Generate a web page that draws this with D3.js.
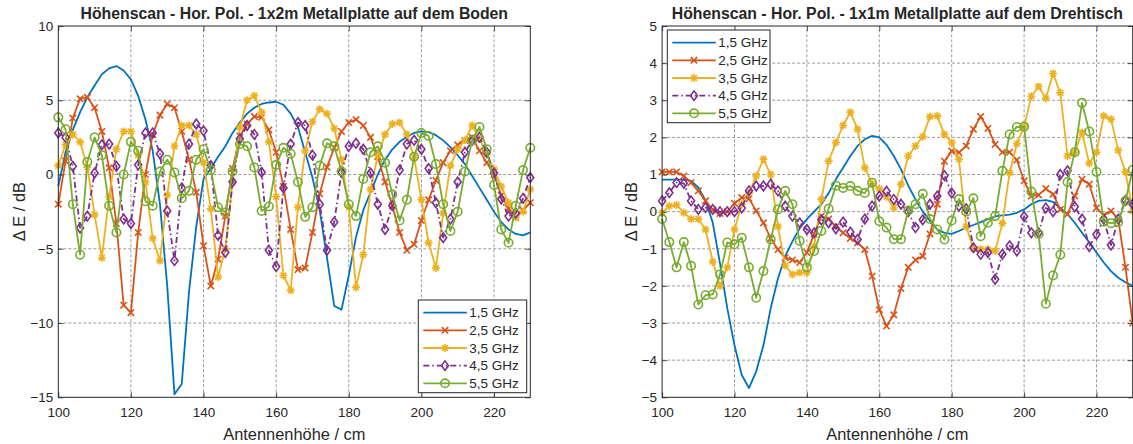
<!DOCTYPE html>
<html>
<head>
<meta charset="utf-8">
<script src="https://cdn.jsdelivr.net/npm/d3@7"></script>
<style>
  body { margin: 0; background: #fff; }
  svg text { font-family: "Liberation Sans", Arial, Helvetica, sans-serif; fill: #262626; }
</style>
</head>
<body>
<svg id="chart" width="1133" height="444"></svg>
<script>
// Antennenhöhe (cm), one sample every 2 cm
const heights = [100,102,104,106,108,110,112,114,116,118,120,122,124,126,128,130,132,134,136,138,
  140,142,144,146,148,150,152,154,156,158,160,162,164,166,168,170,172,174,176,178,
  180,182,184,186,188,190,192,194,196,198,200,202,204,206,208,210,212,214,216,218,
  220,222,224,226,228,230];

const seriesNames = ["1,5 GHz", "2,5 GHz", "3,5 GHz", "4,5 GHz", "5,5 GHz"];

// 1x2m Metallplatte auf dem Boden (dB)
const boden15 = [-0.8,1.5,3.0,4.2,5.2,6.0,6.75,7.15,7.3,7.0,6.4,5.3,3.7,1.6,-2.0,-7.5,-14.8,-14.1,-7.9,-3.5,
  -0.3,0.4,1.2,1.9,2.8,3.5,4.1,4.5,4.75,4.85,4.9,4.7,4.1,3.2,1.5,-0.2,-2.4,-5.6,-8.85,-9.1,
  -6.8,-4.2,-2.4,-1.2,0.0,1.0,1.7,2.2,2.55,2.8,2.9,2.85,2.65,2.3,1.85,1.3,0.7,-0.1,-0.9,-1.7,
  -2.5,-3.2,-3.7,-4.0,-4.1,-3.9];
const boden25 = [-2.0,0.9,3.8,5.1,5.2,4.5,2.9,0.45,-3.3,-8.8,-9.3,-3.9,0.0,2.7,4.0,4.75,4.5,2.9,1.0,-1.2,
  -4.8,-7.5,-5.7,-2.8,0.4,2.6,3.4,3.9,3.85,3.0,1.5,-0.8,-3.7,-6.4,-6.3,-3.9,-1.3,0.5,1.8,2.9,
  3.5,3.7,3.3,2.5,1.2,-0.5,-2.1,-3.9,-5.1,-4.7,-3.1,-1.7,-0.4,0.8,1.6,2.0,2.3,2.5,1.6,0.8,
  0.0,-1.4,-2.3,-2.9,-2.4,-1.9];
const boden35 = [0.6,2.0,2.7,2.2,0.5,-2.7,-5.6,-1.5,1.7,2.9,2.9,1.3,-0.5,-4.3,-5.8,-1.4,1.9,3.3,3.3,2.7,
  0.8,-2.3,-6.9,-5.0,-0.5,3.2,5.0,5.3,4.2,2.2,-1.5,-6.8,-7.8,-2.2,1.6,3.55,4.4,4.1,3.1,1.0,
  -2.2,-7.6,-5.4,-1.0,1.3,2.7,3.4,3.5,2.7,1.15,-1.7,-4.6,-6.3,-2.6,0.6,1.7,2.3,3.3,2.4,1.35,
  0.35,-0.8,-1.9,-2.9,-2.5,-1.0];
const boden45 = [2.8,2.5,0.55,-3.6,-2.8,0.1,2.0,2.05,0.55,-3.0,-3.3,0.65,2.8,2.8,1.4,-2.45,-5.8,-0.9,2.05,3.4,
  2.95,0.6,-4.1,-5.25,-0.5,2.4,3.3,2.7,0.15,-5.1,-6.2,-0.9,2.05,3.5,3.3,1.3,-2.0,-5.1,-3.2,0.15,
  1.9,2.1,1.7,0.1,-2.0,-3.7,-2.1,0.3,2.05,2.3,1.7,0.4,-1.9,-4.25,-3.0,-0.5,1.5,2.3,2.5,1.5,
  0.1,-1.65,-2.8,-2.6,-1.6,-0.2];
const boden55 = [3.85,3.05,-2.0,-5.4,0.85,2.5,1.3,-2.1,-3.9,0.0,2.2,1.6,-1.8,-2.1,0.2,1.0,0.14,-1.6,-1.1,1.0,
  1.7,0.3,-2.2,-2.55,0.2,2.05,1.9,0.48,-2.45,-2.15,0.65,1.8,1.4,-0.5,-2.85,-2.2,0.6,2.1,1.9,0.2,
  -2.0,-2.8,-0.3,1.5,1.9,0.8,-1.35,-3.1,-1.7,1.2,2.8,2.6,0.7,-2.0,-3.8,-2.5,0.2,2.3,3.2,1.7,
  -0.7,-3.7,-4.6,-2.1,0.3,1.8];

// 1x1m Metallplatte auf dem Drehtisch (dB)
const dreh15 = [0.86,0.86,0.86,0.86,0.83,0.65,0.3,-0.3,-1.4,-2.6,-3.6,-4.4,-4.75,-4.3,-3.6,-2.6,-1.8,-1.2,-0.8,-0.45,
  -0.2,0.0,0.2,0.5,0.87,1.18,1.5,1.77,1.95,2.04,2.0,1.8,1.5,1.14,0.7,0.33,0.0,-0.25,-0.48,-0.57,
  -0.6,-0.52,-0.43,-0.36,-0.28,-0.2,-0.13,-0.1,-0.08,-0.03,0.06,0.2,0.29,0.31,0.26,0.1,-0.07,-0.3,-0.57,-0.83,
  -1.1,-1.37,-1.6,-1.78,-1.9,-2.0];
const dreh25 = [1.07,1.07,1.07,0.96,0.78,0.56,0.29,0.05,-0.05,0.0,0.22,0.38,0.35,0.02,-0.3,-0.72,-1.02,-1.24,-1.3,-1.37,
  -1.1,-0.6,-0.12,-0.2,-0.4,-0.57,-0.72,-0.84,-1.02,-1.74,-2.64,-3.08,-2.78,-2.07,-1.5,-1.3,-1.2,-0.6,0.2,1.36,
  1.63,1.59,1.77,2.22,2.56,2.24,1.81,1.6,1.6,1.39,0.83,0.42,0.45,0.62,0.47,0.06,-0.07,0.42,0.87,0.74,
  0.1,-0.1,0.02,-0.2,-1.5,-3.0];
const dreh35 = [-0.03,0.15,0.18,-0.03,-0.2,-0.2,-0.48,-1.35,-2.0,-1.5,-0.48,0.2,0.5,0.96,1.41,1.0,-0.4,-1.45,-1.69,-1.64,
  -1.64,-0.93,0.33,1.36,1.86,2.32,2.68,2.22,1.18,0.75,0.62,0.4,0.1,0.74,1.5,1.77,2.02,2.56,2.58,2.08,
  1.86,1.41,-0.4,-1.0,-1.01,-1.01,-1.06,-0.31,1.05,1.83,2.29,3.11,3.37,3.05,3.72,3.2,1.5,1.6,2.13,1.3,
  1.6,2.58,2.49,1.65,1.07,0.02];
const dreh45 = [0.29,0.51,0.78,0.76,0.29,0.06,0.11,0.06,0.0,0.0,0.0,0.1,0.56,0.69,0.69,0.74,0.56,0.15,-0.12,-0.3,
  -0.48,-0.57,-0.22,-0.3,-0.46,-0.28,-0.55,-0.75,-0.2,0.15,0.42,0.55,0.33,0.2,0.0,-0.43,-0.22,0.2,0.42,0.97,
  0.5,0.15,0.08,-0.97,-1.15,-1.1,-1.82,-1.15,-0.92,-1.06,-0.13,-0.57,-0.57,0.1,0.0,1.0,1.1,0.13,-0.2,-0.94,
  -0.61,-0.2,-0.9,-0.2,0.3,0.2];
const dreh55 = [-0.2,-0.82,-1.5,-0.82,-1.46,-2.5,-2.25,-2.23,-1.69,-0.83,-0.88,-0.7,-1.5,-2.32,-1.6,-0.75,0.06,0.56,0.2,-0.79,
  -1.5,-1.06,-0.52,0.08,0.7,0.64,0.69,0.56,0.5,0.78,-0.26,-0.43,-0.74,-0.74,0.03,0.2,0.48,-0.2,-0.48,-0.75,
  -0.24,0.34,0.0,0.36,-0.66,-0.3,-0.12,1.1,2.08,2.28,2.29,0.54,-0.6,-2.48,-1.72,-1.16,0.8,1.6,2.93,2.16,
  1.07,-0.27,-0.31,-0.28,0.29,1.13];

const xTicks = [100, 120, 140, 160, 180, 200, 220];
const bodenYTicks = [-15, -10, -5, 0, 5, 10];
const drehYTicks = [-5, -4, -3, -2, -1, 0, 1, 2, 3, 4, 5];

// line / marker styles (MATLAB default colour order)
const styles = [
  { color: "#0072BD", marker: null, dash: null },
  { color: "#D95319", marker: "x", dash: null },
  { color: "#EDB120", marker: "star", dash: null },
  { color: "#7E2F8E", marker: "diamond", dash: "6,3,1.5,3" },
  { color: "#77AC30", marker: "circle", dash: null }
];

const svg = d3.select("#chart");
const TICK_LEN = 5;

function markerPath(type) {
  if (type === "x") return "M-3.2,-3.2L3.2,3.2M-3.2,3.2L3.2,-3.2";
  if (type === "star") return "M-4,0L4,0M0,-4L0,4M-2.9,-2.9L2.9,2.9M-2.9,2.9L2.9,-2.9";
  if (type === "diamond") return "M0,-4.8L3.5,0L0,4.8L-3.5,0Z";
  return null;
}

function drawMarker(g, type, color) {
  if (type === "circle") {
    g.append("circle").attr("r", 4.2)
      .attr("fill", "none").attr("stroke", color).attr("stroke-width", 1.6);
  } else {
    g.append("path").attr("d", markerPath(type))
      .attr("fill", "none").attr("stroke", color).attr("stroke-width", 1.6);
  }
}

function drawPanel(cfg) {
  const x = d3.scaleLinear().domain([100, 230]).range([cfg.left, cfg.right]);
  const y = d3.scaleLinear().domain(cfg.yDomain).range([397.3, 26]);
  const g = svg.append("g");

  // grid
  g.append("g").selectAll("line").data(xTicks.slice(1)).join("line")
    .attr("x1", d => x(d)).attr("x2", d => x(d))
    .attr("y1", y.range()[0]).attr("y2", y.range()[1])
    .attr("stroke", "#8f8f8f").attr("stroke-width", 0.9).attr("stroke-dasharray", "3,2");
  g.append("g").selectAll("line").data(cfg.yTicks.slice(1, -1)).join("line")
    .attr("y1", d => y(d)).attr("y2", d => y(d))
    .attr("x1", x.range()[0]).attr("x2", x.range()[1])
    .attr("stroke", "#8f8f8f").attr("stroke-width", 0.9).attr("stroke-dasharray", "3,2");

  // data
  const line = d3.line().x((d, i) => x(heights[i])).y(d => y(d));
  cfg.series.forEach((vals, k) => {
    const st = styles[k];
    g.append("path").datum(vals)
      .attr("d", line)
      .attr("fill", "none")
      .attr("stroke", st.color)
      .attr("stroke-width", 1.8)
      .attr("stroke-linejoin", "round")
      .attr("stroke-dasharray", st.dash);
    if (st.marker) {
      g.append("g").selectAll("g").data(vals).join("g")
        .attr("transform", (d, i) => `translate(${x(heights[i])},${y(d)})`)
        .each(function () { drawMarker(d3.select(this), st.marker, st.color); });
    }
  });

  // axes (ticks pointing inward, like MATLAB)
  const bottom = g.append("g").attr("transform", `translate(0,${y.range()[0]})`)
    .call(d3.axisBottom(x).tickValues(xTicks).tickSize(-TICK_LEN).tickSizeOuter(0).tickPadding(10.5));
  const left = g.append("g").attr("transform", `translate(${x.range()[0]},0)`)
    .call(d3.axisLeft(y).tickValues(cfg.yTicks).tickSize(-TICK_LEN).tickSizeOuter(0).tickPadding(5));
  g.append("g").attr("transform", `translate(0,${y.range()[1]})`)
    .call(d3.axisTop(x).tickValues(xTicks).tickSize(-TICK_LEN).tickSizeOuter(0).tickFormat(""));
  g.append("g").attr("transform", `translate(${x.range()[1]},0)`)
    .call(d3.axisRight(y).tickValues(cfg.yTicks).tickSize(-TICK_LEN).tickSizeOuter(0).tickFormat(""));
  g.selectAll(".domain").remove();
  g.selectAll(".tick line").attr("stroke", "#262626").attr("stroke-width", 0.8);
  [bottom, left].forEach(a => a.selectAll("text")
    .attr("font-size", "13.5px").attr("fill", "#262626")
    .style("font-family", '"Liberation Sans", Arial, sans-serif'));

  g.append("rect")
    .attr("x", x.range()[0]).attr("y", y.range()[1])
    .attr("width", x.range()[1] - x.range()[0]).attr("height", y.range()[0] - y.range()[1])
    .attr("fill", "none").attr("stroke", "#262626").attr("stroke-width", 1);

  // title and labels
  const cx = (x.range()[0] + x.range()[1]) / 2;
  g.append("text").attr("x", cx).attr("y", 18.5).attr("text-anchor", "middle")
    .attr("font-size", "15.8px").attr("font-weight", "bold").attr("fill", "#000").text(cfg.title);
  g.append("text").attr("x", cx).attr("y", 439.5).attr("text-anchor", "middle")
    .attr("font-size", "16.4px").text("Antennenhöhe / cm");
  g.append("text")
    .attr("transform", `translate(${cfg.yLabelX},${(y.range()[0] + y.range()[1]) / 2}) rotate(-90)`)
    .attr("text-anchor", "middle").attr("dominant-baseline", "central")
    .attr("font-size", "16.4px").text("\u0394 E / dB");

  // legend
  const lg = g.append("g").attr("transform", `translate(${cfg.legend[0]},${cfg.legend[1]})`);
  lg.append("rect").attr("width", cfg.legend[2]).attr("height", 92.7)
    .attr("fill", "#fff").attr("stroke", "#262626").attr("stroke-width", 1);
  seriesNames.forEach((name, k) => {
    const st = styles[k];
    const row = lg.append("g").attr("transform", `translate(0,${12.7 + k * 17.65})`);
    row.append("line").attr("x1", 5).attr("x2", 48.5).attr("y1", 0).attr("y2", 0)
      .attr("stroke", st.color).attr("stroke-width", 1.8).attr("stroke-dasharray", st.dash);
    if (st.marker) {
      const m = row.append("g").attr("transform", "translate(26.7,0)");
      drawMarker(m, st.marker, st.color);
    }
    row.append("text").attr("x", 51).attr("y", 0).attr("dominant-baseline", "central")
      .attr("font-size", "13.5px").text(name);
  });
}

drawPanel({
  left: 58.3, right: 530.3, yDomain: [-15, 10], yTicks: bodenYTicks,
  series: [boden15, boden25, boden35, boden45, boden55],
  title: "Höhenscan - Hor. Pol. - 1x2m Metallplatte auf dem Boden",
  yLabelX: 18.5, legend: [418.3, 300, 108.4]
});
drawPanel({
  left: 662.1, right: 1132.7, yDomain: [-5, 5], yTicks: drehYTicks,
  series: [dreh15, dreh25, dreh35, dreh45, dreh55],
  title: "Höhenscan - Hor. Pol. - 1x1m Metallplatte auf dem Drehtisch",
  yLabelX: 631, legend: [667.3, 30, 102.7]
});
</script>
</body>
</html>
